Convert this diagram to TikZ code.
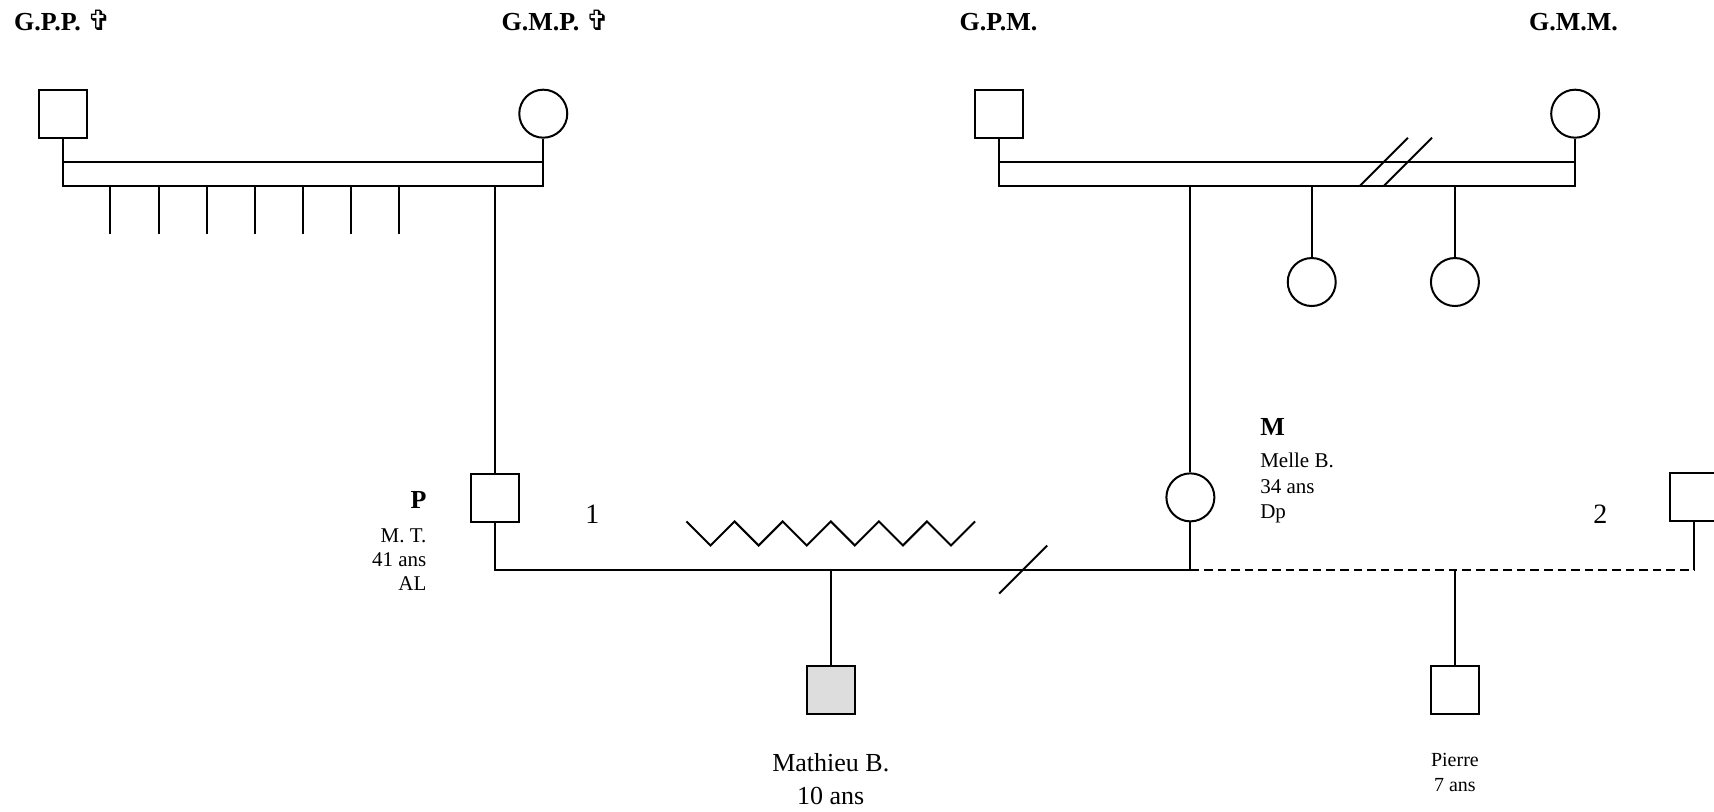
\documentclass[tikz,border=0pt]{standalone}
\usepackage{fontspec}
\setmainfont{Liberation Serif}
\newfontfamily\symfont{DejaVu Sans}
\definecolor{affected}{HTML}{DDDDDD}
\begin{document}
\begin{tikzpicture}[x=0.54655pt,y=-0.54655pt,line width=1pt,
  male/.style={draw,rectangle,minimum size=24pt,inner sep=0pt},
  female/.style={draw,circle,minimum size=24pt,inner sep=0pt},
  hdr/.style={font=\bfseries\fontsize{13}{15}\selectfont,inner sep=0pt,anchor=base west},
  big/.style={font=\bfseries\fontsize{13}{15}\selectfont,inner sep=0pt},
  small/.style={font=\fontsize{10.5}{12.5}\selectfont,inner sep=0pt},
  tiny/.style={font=\fontsize{10}{12}\selectfont,inner sep=0pt,anchor=base},
  mid/.style={font=\fontsize{13}{15}\selectfont,inner sep=0pt,anchor=base},
  num/.style={font=\fontsize{14}{16}\selectfont,inner sep=0pt,anchor=base},
  dashline/.style={dash pattern=on 4.3pt off 2.5pt}]
\useasboundingbox (0,0) rectangle (1568,742);

% headers
\newcommand\crossmark{{\symfont\bfseries\fontsize{14}{15}\selectfont ✞}}
\node[hdr] (tgpp) at (12,28) {G.P.P. \crossmark};
\node[hdr] (tgmp) at (458,28) {G.M.P. \crossmark};
\node[hdr] (tgpm) at (877,28) {G.P.M.};
\node[hdr] (tgmm) at (1398,28) {G.M.M.};

% generation 1
\node[male] (gpp) at (57.5,104) {};
\node[female] (gmp) at (497,104) {};
\node[male] (gpm) at (914,104) {};
\node[female] (gmm) at (1441,104) {};

% paternal couple bar
\coordinate (a1) at (57.5,148);
\coordinate (a2) at (497,148);
\coordinate (a3) at (57.5,170);
\coordinate (a4) at (497,170);
\draw (gpp.south) -- (a3) -- (a4) -- (gmp.south);
\draw (a1) -- (a2);
\foreach \x in {101,145,189,233,277,321,365}
  \draw (\x,170) -- (\x,214);

% maternal couple bar
\coordinate (c1) at (914,148);
\coordinate (c2) at (1441,148);
\coordinate (c3) at (914,170);
\coordinate (c4) at (1441,170);
\draw (gpm.south) -- (c3) -- (c4) -- (gmm.south);
\draw (c1) -- (c2);
\draw (1244,170) -- (1288,126);
\draw (1266,170) -- (1310,126);

% aunts
\node[female] (s1) at (1200,258) {};
\node[female] (s2) at (1331,258) {};
\draw (s1.north) -- (s1.north |- c3);
\draw (s2.north) -- (s2.north |- c3);

% parents
\node[male] (p) at (453,455.5) {};
\node[female] (m) at (1089,455) {};
\draw (p.north) -- (p.north |- a3);
\draw (m.north) -- (m.north |- c3);

\coordinate (pm) at (453,521);
\coordinate (mm) at (1089,521);
\draw (p.south) -- (pm) -- (mm) -- (m.south);

% zigzag (conflict)
\draw (628,477) -- (650,499) -- (672,477) -- (694,499) -- (716,477) -- (738,499)
  -- (760,477) -- (782,499) -- (804,477) -- (826,499) -- (848,477) -- (870,499) -- (892,477);
% separation slash
\draw (914,543) -- (958,499);

% second partner
\node[male] (h2) at (1550,455) {};
\coordinate (hm) at (1550,521);
\draw (h2.south) -- (hm);
\draw[dashline] (mm) -- (hm);

% children
\node[male,fill=affected] (mat) at (760,631) {};
\draw (mat.north) -- (mat.north |- pm);
\node[male] (pie) at (1331,631) {};
\draw (pie.north) -- (pie.north |- mm);

% labels
\node[big,anchor=base east] (lp) at (391,465) {P};
\node[small,anchor=base east] (lp1) at (391,496) {M. T.};
\node[small,anchor=base east] (lp2) at (391,518) {41 ans};
\node[small,anchor=base east] (lp3) at (391,540) {AL};

\node[big,anchor=base west] (lm) at (1152,398) {M};
\node[small,anchor=base west] (lm1) at (1152,428) {Melle B.};
\node[small,anchor=base west] (lm2) at (1152,451) {34 ans};
\node[small,anchor=base west] (lm3) at (1152,474) {Dp};

\node[num] (n1) at (542,479) {1};
\node[num] (n2) at (1464,479) {2};

\node[mid] (lmat1) at (760,706) {Mathieu B.};
\node[mid] (lmat2) at (760,736) {10 ans};
\node[tiny] (lpie1) at (1331,701) {Pierre};
\node[tiny] (lpie2) at (1331,724) {7 ans};
\end{tikzpicture}
\end{document}
